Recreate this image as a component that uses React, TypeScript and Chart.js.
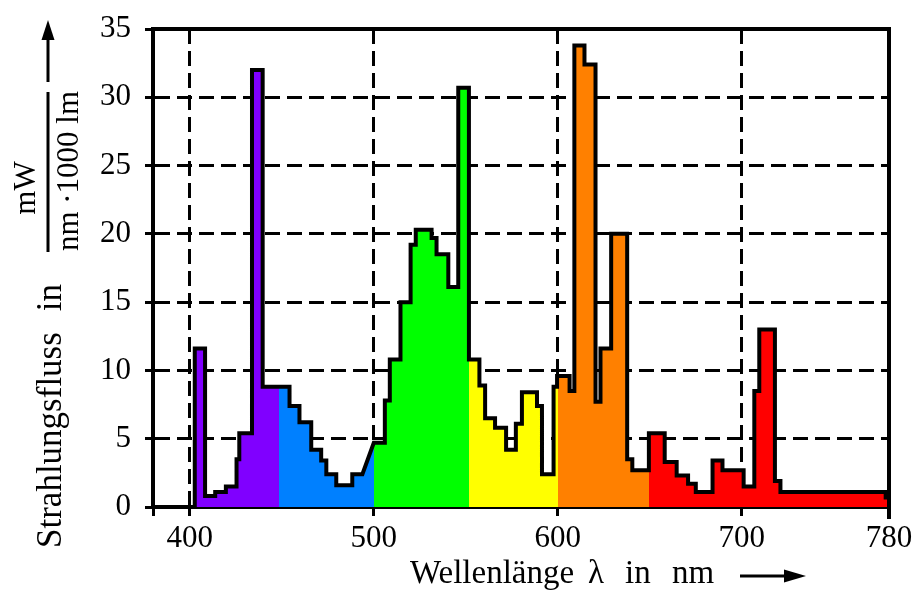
import React, { useEffect, useRef } from "react";
import { Chart, registerables } from "chart.js";

Chart.register(...registerables);

// Spectrum drawn as steps: value[i] holds between stepEdges[i] and stepEdges[i+1]
// (null = sloped transition between neighbouring steps)
const stepEdges = [
  402.7, 408.3, 413.8, 419.6, 425.4, 426.9, 433.8, 439.6, 454.2, 459.6, 466.0,
  471.4, 474.2, 479.6, 488.3, 493.8, 500.0, 506.0, 508.7, 514.5, 520.0, 522.8,
  531.4, 534.1, 540.5, 545.9, 551.7, 557.4, 560.5, 565.9, 571.9, 577.2, 580.5,
  588.7, 591.4, 597.7, 599.6, 606.4, 609.0, 614.5, 620.5, 623.2, 629.0, 637.7,
  640.5, 649.5, 658.1, 664.6, 670.8, 675.0, 684.1, 689.5, 701.0, 706.8, 709.5,
  718.0, 721.0, 778.2, 780.0,
];
const stepValues: (number | null)[] = [
  11.6, 0.8, 1.1, 1.5, 3.5, 5.4, 32.0, 8.8, 7.4, 6.2, 4.2, 3.4, 2.4, 1.6, 2.4,
  null, 4.7, 7.8, 10.8, 15.0, 19.2, 20.3, 19.7, 18.5, 16.1, 30.7, 10.8, 8.9,
  6.5, 5.8, 4.2, 6.1, 8.4, 7.4, 2.4, 8.8, 9.6, 8.5, 33.8, 32.4, 7.7, 11.6, 20.0,
  3.5, 2.7, 5.4, 3.3, 2.3, 1.7, 1.1, 3.4, 2.7, 1.5, 8.5, 13.0, 1.9, 1.1, 0.7,
];

const bandEdges = [380, 448.5, 500.3, 551.7, 600.3, 649.5, 780];
const bandColors = ["#8000ff", "#0080ff", "#00ff00", "#ffff00", "#ff8000", "#ff0000"];

const xTicks = [380, 400, 500, 600, 700, 780];
const xMin = 380;
const xMax = 780;
const yMin = 0;
const yMax = 35;
const yStep = 5;

const yTitleWords = ["Strahlungsfluss", "in"];
const yUnitNum = "mW";
const yUnitDen = "nm ·1000 lm";
const xTitleWords = ["Wellenlänge", "λ", "in", "nm"];

const FONT = "'Liberation Serif', 'Times New Roman', serif";

function buildOutline() {
  const pts: { x: number; y: number }[] = [{ x: stepEdges[0], y: 0 }];
  for (let i = 0; i < stepValues.length; i++) {
    const v = stepValues[i];
    if (v === null) continue;
    pts.push({ x: stepEdges[i], y: v });
    pts.push({ x: stepEdges[i + 1], y: v });
  }
  return pts;
}

const textPlugin = {
  id: "customText",
  afterDraw(chart: any) {
    const { ctx, chartArea: a } = chart;
    ctx.save();
    // frame (top & right)
    ctx.strokeStyle = "#000";
    ctx.lineWidth = 4;
    ctx.lineCap = "butt";
    ctx.beginPath();
    ctx.moveTo(a.left, a.top);
    ctx.lineTo(a.right, a.top);
    ctx.moveTo(a.right, a.top - 2);
    ctx.lineTo(a.right, a.bottom + 12);
    ctx.stroke();

    ctx.fillStyle = "#000";
    const rot = (txt: string, x: number, y: number, size: number, align: string) => {
      ctx.save();
      ctx.translate(x, y);
      ctx.rotate(-Math.PI / 2);
      ctx.font = `${size}px ${FONT}`;
      ctx.textAlign = align;
      ctx.textBaseline = "alphabetic";
      ctx.fillText(txt, 0, 0);
      ctx.restore();
    };
    // y title: words placed along the axis
    rot(yTitleWords[0], 61, 548, 35, "left");
    rot(yTitleWords[1], 61, 284, 35, "right");
    rot(yUnitNum, 35, 188, 31, "center");
    rot(yUnitDen, 78, 171, 31, "center");
    // fraction bar
    ctx.lineWidth = 3;
    ctx.beginPath();
    ctx.moveTo(48, 92);
    ctx.lineTo(48, 252);
    ctx.stroke();
    // up arrow
    ctx.beginPath();
    ctx.moveTo(48, 82);
    ctx.lineTo(48, 38);
    ctx.stroke();
    ctx.beginPath();
    ctx.moveTo(48, 20);
    ctx.lineTo(41.5, 40);
    ctx.lineTo(54.5, 40);
    ctx.closePath();
    ctx.fill();

    // x title words
    ctx.font = `33px ${FONT}`;
    ctx.textAlign = "left";
    ctx.textBaseline = "alphabetic";
    const xs = [410, 588, 625, 672];
    xTitleWords.forEach((w, i) => ctx.fillText(w, xs[i], 583));
    ctx.lineWidth = 3;
    ctx.beginPath();
    ctx.moveTo(740, 576);
    ctx.lineTo(788, 576);
    ctx.stroke();
    ctx.beginPath();
    ctx.moveTo(806, 576);
    ctx.lineTo(784, 569.5);
    ctx.lineTo(784, 582.5);
    ctx.closePath();
    ctx.fill();
    ctx.restore();
  },
};

export default function App() {
  const ref = useRef<HTMLCanvasElement | null>(null);
  useEffect(() => {
    if (!ref.current) return;
    const chart = new Chart(ref.current, {
      type: "line",
      data: {
        datasets: [
          {
            data: buildOutline(),
            borderColor: "#000",
            borderWidth: 4,
            borderJoinStyle: "miter",
            pointRadius: 0,
            tension: 0,
            fill: "origin",
            backgroundColor: (c: any) => {
              const ch = c.chart;
              const area = ch.chartArea;
              if (!area) return "#ccc";
              const xs = ch.scales.x;
              const x0 = xs.getPixelForValue(xMin);
              const x1 = xs.getPixelForValue(xMax);
              const g = ch.ctx.createLinearGradient(x0, 0, x1, 0);
              for (let i = 0; i < bandColors.length; i++) {
                const s = (bandEdges[i] - xMin) / (xMax - xMin);
                const e = (bandEdges[i + 1] - xMin) / (xMax - xMin);
                g.addColorStop(Math.max(0, s), bandColors[i]);
                g.addColorStop(Math.min(1, e) - (i < bandColors.length - 1 ? 0.0001 : 0), bandColors[i]);
              }
              return g;
            },
          },
        ],
      },
      options: {
        animation: false,
        responsive: false,
        events: [],
        layout: { padding: { left: 0, top: 29, right: 27, bottom: 0 } },
        plugins: { legend: { display: false }, tooltip: { enabled: false } },
        scales: {
          x: {
            type: "linear",
            min: xMin,
            max: xMax,
            afterBuildTicks: (s: any) => {
              s.ticks = xTicks.map((v) => ({ value: v }));
            },
            afterFit: (s: any) => {
              s.height = 83;
              s.paddingLeft = 0;
              s.paddingRight = 0;
            },
            ticks: {
              autoSkip: false,
              maxRotation: 0,
              color: "#000",
              padding: 4,
              font: { family: FONT, size: 31 },
              callback: (v: any) => (v === xMin ? "" : String(v)),
            },
            grid: {
              color: "#000",
              lineWidth: 3,
              tickLength: 9,
              tickWidth: 3,
              tickColor: "#000",
            },
            border: { display: true, color: "#000", width: 4, dash: [15, 7] },
          },
          y: {
            type: "linear",
            min: yMin,
            max: yMax,
            afterFit: (s: any) => {
              s.width = 153;
              s.paddingTop = 0;
              s.paddingBottom = 0;
            },
            ticks: {
              stepSize: yStep,
              color: "#000",
              padding: 14,
              font: { family: FONT, size: 31 },
            },
            grid: {
              color: "#000",
              lineWidth: 3,
              tickLength: 8,
              tickWidth: 3,
              tickColor: "#000",
            },
            border: { display: true, color: "#000", width: 4, dash: [15, 7] },
          },
        },
      },
      plugins: [textPlugin],
    } as any);
    return () => chart.destroy();
  }, []);
  return (
    <div style={{ position: "fixed", left: 0, top: 0, width: 916, height: 590, background: "#fff" }}>
      <canvas ref={ref} width={916} height={590} />
    </div>
  );
}
